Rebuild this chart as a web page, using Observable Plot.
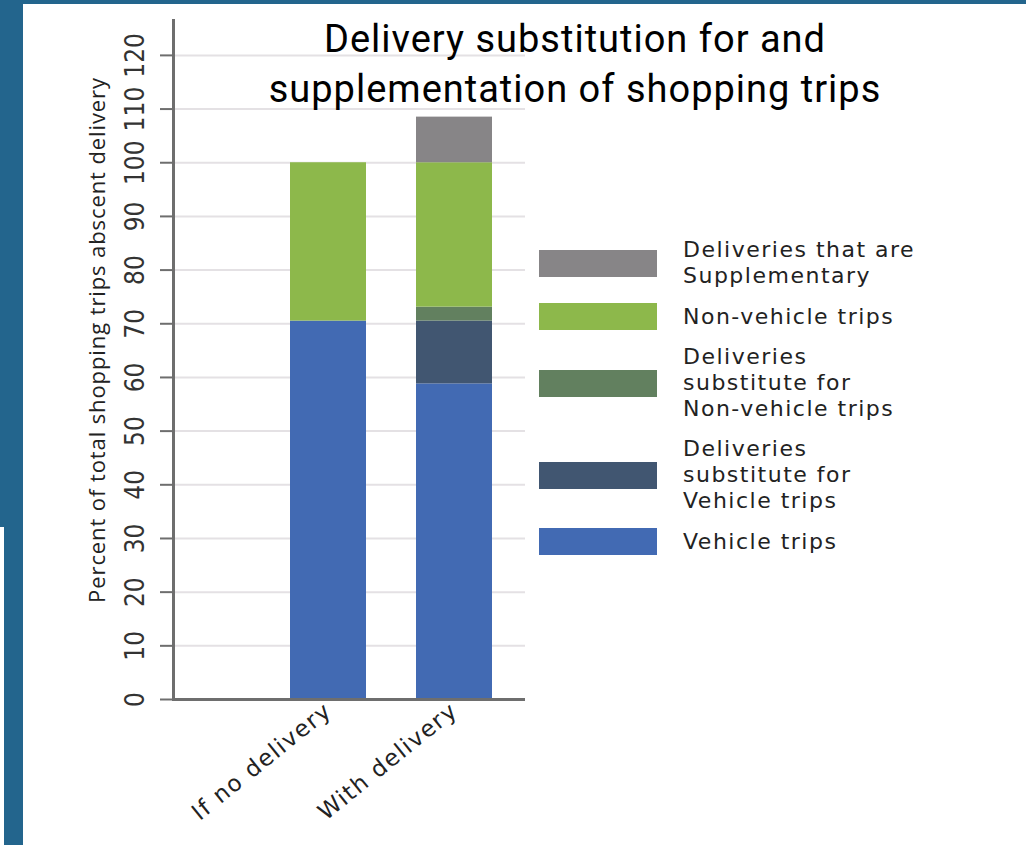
<!DOCTYPE html>
<html>
<head>
<meta charset="utf-8">
<script src="https://cdn.jsdelivr.net/npm/d3@7"></script>
<script src="https://cdn.jsdelivr.net/npm/@observablehq/plot@0.6"></script>
<style>
  body { margin: 0; }
  #page { position: relative; width: 1026px; height: 845px; background: #23658d; overflow: hidden; }
  #panel { position: absolute; left: 23px; top: 4px; right: 0; bottom: 0; background: #fff; }
  #notch { position: absolute; left: 0; top: 527px; width: 4px; bottom: 0; background: #fff; }
  #chart { position: absolute; left: 0; top: 0; }
  #title { position: absolute; left: 575px; top: 14px; transform: translateX(-50%);
           font-family: Roboto, sans-serif; font-size: 38px; line-height: 50px; letter-spacing: 1px;
           text-align: center; white-space: nowrap; color: #000; }
  #legend { position: absolute; left: 539px; top: 237px; font-family: "DejaVu Sans", sans-serif;
            font-size: 22px; line-height: 26px; letter-spacing: 1.5px; color: #222; }
  .item { display: flex; align-items: center; margin-bottom: 14px; }
  .swatch { width: 118px; height: 27px; margin-right: 26px; flex: none; }
</style>
</head>
<body>
<div id="page">
  <div id="panel"></div>
  <div id="notch"></div>
  <div id="chart"></div>
  <div id="title"></div>
  <div id="legend"></div>
</div>
<script>
// Shopping-trip scenarios on the x axis
const categories = ["If no delivery", "With delivery"];

// Stack segments, bottom to top
const series = [
  "Vehicle trips",
  "Deliveries substitute for Vehicle trips",
  "Deliveries substitute for Non-vehicle trips",
  "Non-vehicle trips",
  "Deliveries that are Supplementary"
];

// Legend wording (line breaks per entry), same order as series
const legendLines = [
  ["Vehicle trips"],
  ["Deliveries", "substitute for", "Vehicle trips"],
  ["Deliveries", "substitute for", "Non-vehicle trips"],
  ["Non-vehicle trips"],
  ["Deliveries that are", "Supplementary"]
];

const colors = ["#426ab3", "#415671", "#62805f", "#8db84b", "#878587"];

// Percent of total shopping trips absent delivery, per series
const noDelivery   = [70.5, 0, 0, 29.5, 0];
const withDelivery = [58.8, 11.7, 2.6, 26.9, 8.5];

const yTicks = [0, 10, 20, 30, 40, 50, 60, 70, 80, 90, 100, 110, 120];
const yLabel = "Percent of total shopping trips abscent delivery";
const titleLines = ["Delivery substitution for and", "supplementation of shopping trips"];

const valuesByCategory = [noDelivery, withDelivery];
const data = categories.flatMap((c, i) =>
  series.map((s, j) => ({category: c, series: s, value: valuesByCategory[i][j]}))
);

const chart = Plot.plot({
  width: 1026,
  height: 845,
  marginLeft: 173,
  marginRight: 501,
  marginTop: 20,
  marginBottom: 146,
  style: {background: "transparent", overflow: "visible"},
  x: {domain: categories, paddingInner: 0.397, paddingOuter: 0.595, align: 0.78, label: null},
  y: {domain: [0, 126.5], label: null},
  color: {domain: series, range: colors},
  marks: [
    Plot.gridY(yTicks, {stroke: "#e4e1e4", strokeOpacity: 1, strokeWidth: 2}),
    Plot.barY(data, {x: "category", y: "value", fill: "series"}),
    Plot.axisY(yTicks, {tickSize: 13, tickFormat: () => "", stroke: "#6e6e6e", strokeWidth: 2, label: null}),
    Plot.text(yTicks, {
      y: d => d, text: d => String(d), frameAnchor: "left", dx: -38, rotate: -90, textAnchor: "middle",
      fontSize: 26, fontFamily: "'Liberation Sans Narrow', 'DejaVu Sans Condensed', sans-serif", fill: "#333"
    }),
    Plot.text([yLabel], {
      text: d => d, frameAnchor: "left", dx: -76, dy: -20, rotate: -90, textAnchor: "middle",
      fontSize: 22, fontFamily: "'Open Sans', sans-serif", fill: "#222"
    }),
    Plot.frame({anchor: "left", stroke: "#6e6e6e", strokeWidth: 3}),
    Plot.ruleY([0], {stroke: "#6e6e6e", strokeWidth: 3}),
    Plot.axisX({
      tickSize: 0, tickPadding: 8, tickRotate: -39, label: null,
      fontSize: 23, fontFamily: "'DejaVu Sans', sans-serif", fill: "#222"
    })
  ]
});
document.getElementById("chart").appendChild(chart);

// Widen the spacing of the axis texts
d3.select(chart).selectAll("text")
  .filter(function() { return this.textContent === yLabel; })
  .style("letter-spacing", "0.9px");
d3.select(chart).selectAll('g[aria-label="x-axis tick label"] text').style("letter-spacing", "1.5px");

// Title
const title = document.getElementById("title");
titleLines.forEach(t => {
  const d = document.createElement("div");
  d.textContent = t;
  title.appendChild(d);
});

// Legend, listed top-down (reverse of stacking order)
const legend = document.getElementById("legend");
series.map((s, i) => i).reverse().forEach(i => {
  const item = document.createElement("div");
  item.className = "item";
  const sw = document.createElement("div");
  sw.className = "swatch";
  sw.style.background = colors[i];
  const label = document.createElement("div");
  label.innerHTML = legendLines[i].join("<br>");
  item.appendChild(sw);
  item.appendChild(label);
  legend.appendChild(item);
});
</script>
</body>
</html>
